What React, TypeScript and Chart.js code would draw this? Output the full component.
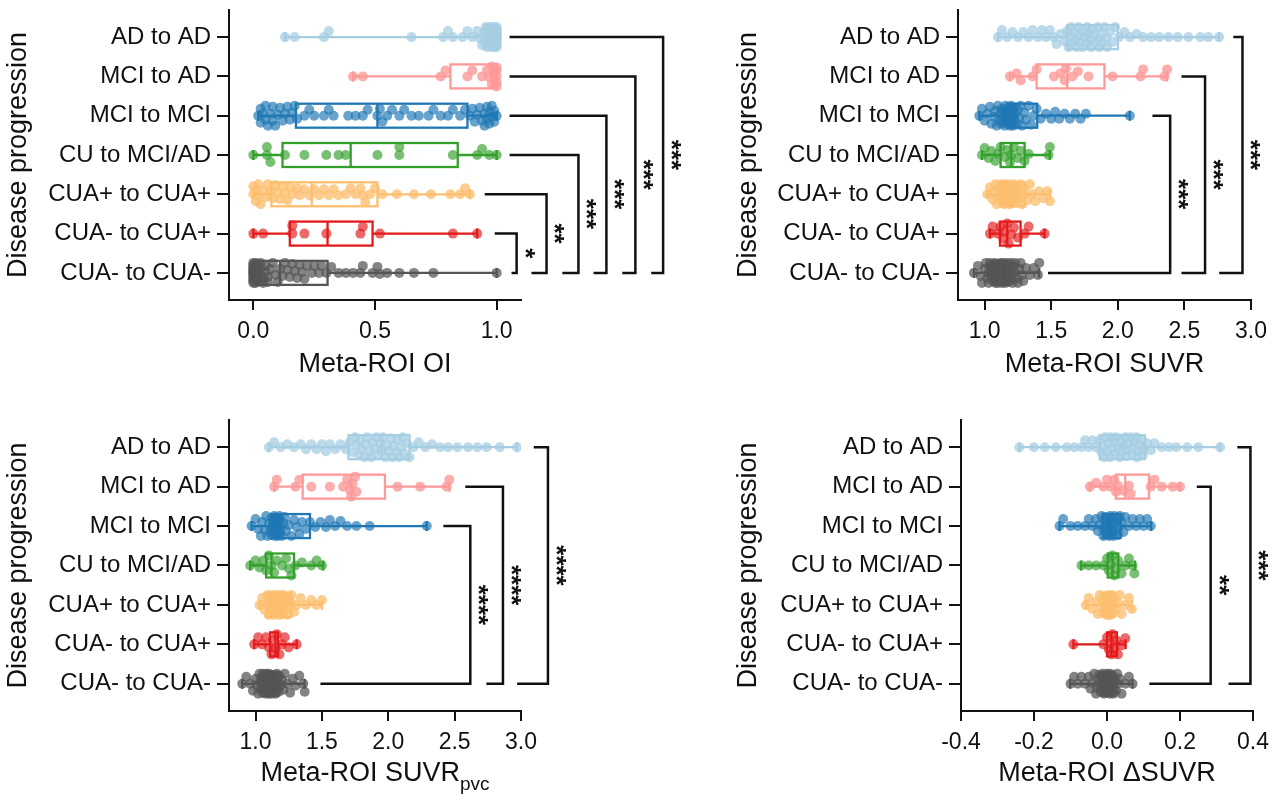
import React, { useEffect, useRef } from 'react';
import { Chart, registerables } from 'chart.js';

Chart.register(...registerables);

const FONT = '"Liberation Sans", Arial, Helvetica, sans-serif';
Chart.defaults.font.family = FONT;

// ---------------- shared data ----------------
const categories = ['AD to AD', 'MCI to AD', 'MCI to MCI', 'CU to MCI/AD', 'CUA+ to CUA+', 'CUA- to CUA+', 'CUA- to CUA-'];
const yTitle = 'Disease progression';

// ---------------- panel A: Meta-ROI OI ----------------
const oiTicks = [0, 0.5, 1.0];
const oiPoints: number[][] = [
  [0.13, 0.17, 0.29, 0.31, 0.65, 0.78, 0.80, 0.82, 0.86, 0.88, 0.90, 0.92, 0.93, 0.94, 0.95, 0.95, 0.96, 0.96, 0.96, 0.97, 0.97, 0.97, 0.97, 0.98, 0.98, 0.98, 0.98, 0.98, 0.99, 0.99, 0.99, 0.99, 0.99, 0.99, 0.99, 1.0, 1.0, 1.0, 1.0, 1.0, 1.0, 1.0, 1.0, 1.0, 1.0, 1.0, 1.0, 0.985, 0.975, 0.965, 0.955, 0.995, 0.995],
  [0.41, 0.45, 0.77, 0.79, 0.88, 0.90, 0.94, 0.96, 0.97, 0.98, 0.98, 0.99, 0.99, 1.0, 1.0, 1.0, 1.0, 1.0],
  [0.02, 0.03, 0.03, 0.04, 0.05, 0.05, 0.06, 0.07, 0.08, 0.08, 0.09, 0.10, 0.11, 0.12, 0.13, 0.14, 0.15, 0.16, 0.17, 0.18, 0.21, 0.23, 0.25, 0.29, 0.31, 0.33, 0.39, 0.42, 0.45, 0.47, 0.51, 0.52, 0.53, 0.55, 0.57, 0.60, 0.62, 0.65, 0.68, 0.72, 0.74, 0.77, 0.80, 0.82, 0.85, 0.87, 0.89, 0.90, 0.91, 0.92, 0.93, 0.94, 0.95, 0.95, 0.96, 0.96, 0.97, 0.97, 0.98, 0.98, 0.99, 0.99, 1.0],
  [0.0, 0.056, 0.056, 0.07, 0.13, 0.21, 0.30, 0.35, 0.38, 0.51, 0.60, 0.60, 0.82, 0.92, 0.94, 0.97, 1.0],
  [0.0, 0.0, 0.01, 0.01, 0.02, 0.02, 0.03, 0.04, 0.05, 0.06, 0.07, 0.08, 0.09, 0.10, 0.11, 0.12, 0.13, 0.14, 0.15, 0.16, 0.18, 0.19, 0.21, 0.23, 0.25, 0.27, 0.29, 0.31, 0.33, 0.35, 0.38, 0.40, 0.42, 0.44, 0.45, 0.46, 0.48, 0.50, 0.53, 0.59, 0.66, 0.73, 0.81, 0.85, 0.87, 0.89],
  [0.0, 0.04, 0.16, 0.16, 0.21, 0.30, 0.44, 0.45, 0.52, 0.82, 0.92],
  [0, 0, 0, 0, 0, 0, 0, 0, 0, 0, 0, 0, 0.005, 0.005, 0.005, 0.01, 0.01, 0.01, 0.01, 0.01, 0.015, 0.015, 0.02, 0.02, 0.02, 0.02, 0.03, 0.03, 0.03, 0.04, 0.04, 0.05, 0.05, 0.06, 0.06, 0.07, 0.08, 0.09, 0.10, 0.11, 0.12, 0.13, 0.14, 0.15, 0.16, 0.17, 0.18, 0.19, 0.20, 0.21, 0.22, 0.24, 0.25, 0.27, 0.28, 0.30, 0.32, 0.35, 0.38, 0.41, 0.44, 0.45, 0.49, 0.51, 0.52, 0.55, 0.60, 0.66, 0.74, 1.0],
];
// [min, q1, median, q3, max]
const oiBoxes: number[][] = [
  [0.13, 0.95, 0.99, 1.0, 1.0],
  [0.41, 0.81, 0.98, 1.0, 1.0],
  [0.02, 0.175, 0.51, 0.88, 1.0],
  [0.0, 0.12, 0.40, 0.84, 1.0],
  [0.0, 0.074, 0.24, 0.51, 0.89],
  [0.0, 0.15, 0.305, 0.49, 0.92],
  [0.0, 0.015, 0.11, 0.305, 1.0],
];
const oiBracketRows = [5, 4, 3, 2, 1, 0];
const oiBracketX = [1.082, 1.205, 1.336, 1.451, 1.57, 1.684];
const oiBracketTop = [0.992, 0.951, 1.053, 1.053, 1.053, 1.053];
const oiBracketBottom = [1.061, 1.143, 1.27, 1.398, 1.516, 1.635];
const oiBracketLabels = ['*', '**', '***', '***', '***', '***'];

// ---------------- panel B: Meta-ROI SUVR ----------------
const suvrTicks = [1.0, 1.5, 2.0, 2.5, 3.0];
const suvrPoints: number[][] = [
  [1.10, 1.13, 1.17, 1.21, 1.25, 1.29, 1.33, 1.36, 1.40, 1.43, 1.46, 1.49, 1.52, 1.54, 1.57, 1.60, 1.62, 1.63, 1.65, 1.66, 1.68, 1.69, 1.71, 1.72, 1.74, 1.75, 1.77, 1.78, 1.80, 1.81, 1.83, 1.85, 1.86, 1.88, 1.90, 1.92, 1.94, 1.96, 1.98, 2.01, 2.05, 2.09, 2.14, 2.19, 2.25, 2.31, 2.38, 2.45, 2.53, 2.62, 2.68, 2.76, 1.645, 1.675, 1.705, 1.735, 1.765, 1.795, 1.825, 1.855, 1.885, 1.915],
  [1.19, 1.24, 1.27, 1.36, 1.39, 1.52, 1.57, 1.60, 1.61, 1.66, 1.70, 1.78, 1.96, 2.17, 2.19, 2.35, 2.37],
  [0.96, 0.98, 1.0, 1.02, 1.04, 1.05, 1.07, 1.08, 1.09, 1.10, 1.11, 1.12, 1.12, 1.13, 1.14, 1.15, 1.15, 1.16, 1.17, 1.17, 1.18, 1.18, 1.19, 1.19, 1.20, 1.20, 1.21, 1.21, 1.22, 1.23, 1.24, 1.25, 1.26, 1.27, 1.28, 1.30, 1.31, 1.33, 1.35, 1.37, 1.39, 1.42, 1.46, 1.50, 1.53, 1.56, 1.60, 1.64, 1.68, 1.72, 1.76, 2.09, 1.145, 1.155, 1.165, 1.175, 1.185, 1.195, 1.205, 1.215, 1.225],
  [0.98, 1.0, 1.03, 1.05, 1.08, 1.10, 1.12, 1.15, 1.17, 1.19, 1.20, 1.22, 1.25, 1.27, 1.30, 1.33, 1.48, 1.49],
  [1.02, 1.04, 1.06, 1.07, 1.08, 1.09, 1.10, 1.11, 1.12, 1.13, 1.13, 1.14, 1.15, 1.15, 1.16, 1.17, 1.17, 1.18, 1.18, 1.19, 1.19, 1.20, 1.20, 1.21, 1.22, 1.22, 1.23, 1.24, 1.25, 1.26, 1.27, 1.28, 1.29, 1.30, 1.32, 1.34, 1.36, 1.38, 1.41, 1.44, 1.47, 1.49, 1.125, 1.145, 1.165, 1.185, 1.205, 1.225, 1.245],
  [1.04, 1.06, 1.10, 1.12, 1.14, 1.15, 1.17, 1.18, 1.20, 1.22, 1.25, 1.30, 1.33, 1.45],
  [0.92, 0.95, 0.97, 0.98, 1.0, 1.01, 1.02, 1.03, 1.03, 1.04, 1.04, 1.05, 1.05, 1.06, 1.06, 1.065, 1.07, 1.07, 1.075, 1.08, 1.08, 1.085, 1.09, 1.09, 1.095, 1.10, 1.10, 1.10, 1.105, 1.11, 1.11, 1.11, 1.115, 1.12, 1.12, 1.12, 1.125, 1.13, 1.13, 1.13, 1.135, 1.14, 1.14, 1.14, 1.145, 1.15, 1.15, 1.155, 1.16, 1.16, 1.165, 1.17, 1.17, 1.175, 1.18, 1.18, 1.185, 1.19, 1.20, 1.205, 1.21, 1.22, 1.225, 1.23, 1.24, 1.25, 1.26, 1.27, 1.28, 1.29, 1.31, 1.34, 1.37, 1.40, 1.41],
];
const suvrBoxes: number[][] = [
  [1.10, 1.62, 1.78, 2.0, 2.76],
  [1.19, 1.39, 1.62, 1.90, 2.37],
  [0.96, 1.19, 1.23, 1.395, 2.09],
  [0.98, 1.12, 1.20, 1.30, 1.49],
  [1.02, 1.13, 1.20, 1.30, 1.49],
  [1.04, 1.115, 1.17, 1.27, 1.45],
  [0.92, 1.07, 1.12, 1.17, 1.41],
];
const suvrBracketRows = [2, 1, 0];
const suvrBracketX = [2.393, 2.655, 2.936];
const suvrBracketTop = [2.26, 2.478, 2.867];
const suvrBracketBottom = [1.476, 2.478, 2.761];
const suvrBracketLabels = ['***', '***', '***'];

// ---------------- panel C: Meta-ROI SUVRpvc ----------------
const pvcTicks = [1.0, 1.5, 2.0, 2.5, 3.0];
const pvcPoints: number[][] = [
  [1.10, 1.14, 1.19, 1.24, 1.29, 1.34, 1.38, 1.42, 1.46, 1.50, 1.53, 1.56, 1.60, 1.64, 1.68, 1.71, 1.73, 1.76, 1.78, 1.80, 1.82, 1.84, 1.86, 1.88, 1.90, 1.92, 1.94, 1.96, 1.98, 2.00, 2.02, 2.04, 2.06, 2.08, 2.10, 2.12, 2.14, 2.16, 2.19, 2.23, 2.28, 2.33, 2.39, 2.45, 2.52, 2.60, 2.67, 2.74, 2.84, 2.97, 1.75, 1.79, 1.83, 1.87, 1.91, 1.95, 1.99, 2.03, 2.07, 2.11],
  [1.14, 1.16, 1.30, 1.33, 1.42, 1.56, 1.66, 1.69, 1.71, 1.72, 1.73, 1.75, 1.76, 2.07, 2.24, 2.44, 2.46],
  [0.97, 1.0, 1.02, 1.04, 1.05, 1.07, 1.08, 1.09, 1.10, 1.11, 1.12, 1.12, 1.13, 1.14, 1.14, 1.15, 1.15, 1.16, 1.16, 1.17, 1.17, 1.18, 1.18, 1.19, 1.20, 1.21, 1.22, 1.23, 1.25, 1.27, 1.29, 1.31, 1.33, 1.35, 1.38, 1.41, 1.45, 1.49, 1.53, 1.56, 1.60, 1.64, 1.69, 1.76, 1.86, 2.29, 1.125, 1.135, 1.145, 1.155, 1.165, 1.175, 1.185],
  [0.96, 1.0, 1.03, 1.06, 1.08, 1.10, 1.12, 1.14, 1.16, 1.20, 1.23, 1.25, 1.27, 1.30, 1.35, 1.42, 1.46, 1.50],
  [1.03, 1.05, 1.07, 1.08, 1.09, 1.10, 1.11, 1.12, 1.13, 1.14, 1.14, 1.15, 1.15, 1.16, 1.16, 1.17, 1.18, 1.18, 1.19, 1.20, 1.20, 1.21, 1.22, 1.23, 1.24, 1.25, 1.26, 1.27, 1.29, 1.31, 1.34, 1.38, 1.42, 1.46, 1.50, 1.105, 1.125, 1.145, 1.165, 1.185, 1.205, 1.225],
  [0.99, 1.02, 1.05, 1.08, 1.10, 1.12, 1.13, 1.15, 1.16, 1.18, 1.20, 1.22, 1.25, 1.31],
  [0.90, 0.93, 0.96, 0.98, 1.0, 1.01, 1.02, 1.03, 1.035, 1.04, 1.045, 1.05, 1.05, 1.055, 1.06, 1.06, 1.065, 1.07, 1.07, 1.075, 1.08, 1.08, 1.085, 1.09, 1.09, 1.095, 1.10, 1.10, 1.10, 1.105, 1.11, 1.11, 1.11, 1.115, 1.12, 1.12, 1.12, 1.125, 1.13, 1.13, 1.13, 1.135, 1.14, 1.14, 1.145, 1.15, 1.15, 1.155, 1.16, 1.16, 1.165, 1.17, 1.175, 1.18, 1.19, 1.20, 1.21, 1.22, 1.24, 1.26, 1.28, 1.30, 1.33, 1.36, 1.37],
];
const pvcBoxes: number[][] = [
  [1.10, 1.70, 1.95, 2.16, 2.97],
  [1.14, 1.355, 1.72, 1.975, 2.46],
  [0.97, 1.12, 1.18, 1.41, 2.29],
  [0.96, 1.08, 1.12, 1.29, 1.51],
  [1.03, 1.08, 1.16, 1.27, 1.50],
  [0.99, 1.11, 1.15, 1.17, 1.31],
  [0.90, 1.05, 1.11, 1.17, 1.37],
];
const pvcBracketRows = [2, 1, 0];
const pvcBracketX = [2.618, 2.864, 3.203];
const pvcBracketTop = [2.415, 2.58, 3.096];
const pvcBracketBottom = [1.489, 2.739, 2.971];
const pvcBracketLabels = ['****', '****', '****'];

// ---------------- panel D: Meta-ROI ΔSUVR ----------------
const deltaTicks = [-0.4, -0.2, 0.0, 0.2, 0.4];
const deltaPoints: number[][] = [
  [-0.24, -0.20, -0.17, -0.14, -0.11, -0.09, -0.07, -0.06, -0.05, -0.04, -0.03, -0.02, -0.015, -0.01, -0.005, 0.0, 0.005, 0.01, 0.015, 0.02, 0.025, 0.03, 0.035, 0.04, 0.045, 0.05, 0.055, 0.06, 0.065, 0.07, 0.075, 0.08, 0.085, 0.09, 0.095, 0.10, 0.11, 0.12, 0.13, 0.15, 0.17, 0.19, 0.22, 0.25, 0.31, -0.008, 0.008, 0.022, 0.038, 0.052, 0.068, 0.082, 0.098],
  [-0.047, -0.03, -0.01, 0.0, 0.01, 0.02, 0.025, 0.03, 0.045, 0.06, 0.065, 0.12, 0.13, 0.15, 0.18, 0.20],
  [-0.13, -0.12, -0.10, -0.08, -0.06, -0.05, -0.04, -0.03, -0.025, -0.02, -0.015, -0.01, -0.008, -0.005, -0.002, 0.0, 0.002, 0.005, 0.008, 0.01, 0.012, 0.015, 0.018, 0.02, 0.025, 0.03, 0.035, 0.04, 0.045, 0.05, 0.06, 0.07, 0.08, 0.09, 0.10, 0.11, 0.12, -0.004, 0.004, 0.014, 0.022, 0.028, 0.033],
  [-0.07, -0.05, -0.03, -0.01, 0.0, 0.005, 0.01, 0.015, 0.02, 0.025, 0.03, 0.04, 0.05, 0.06, 0.07, 0.075],
  [-0.058, -0.05, -0.04, -0.03, -0.025, -0.02, -0.015, -0.01, -0.008, -0.005, -0.003, 0.0, 0.002, 0.004, 0.006, 0.008, 0.01, 0.012, 0.015, 0.018, 0.02, 0.025, 0.03, 0.035, 0.04, 0.05, 0.06, 0.068, -0.012, -0.001, 0.003, 0.009, 0.014],
  [-0.092, -0.01, 0.0, 0.005, 0.01, 0.012, 0.015, 0.02, 0.025, 0.03, 0.04, 0.05],
  [-0.10, -0.09, -0.08, -0.07, -0.06, -0.05, -0.045, -0.04, -0.035, -0.03, -0.025, -0.02, -0.018, -0.015, -0.012, -0.01, -0.008, -0.005, -0.003, 0.0, 0.0, 0.002, 0.004, 0.006, 0.008, 0.01, 0.012, 0.015, 0.018, 0.02, 0.025, 0.03, 0.035, 0.04, 0.05, 0.06, 0.07, -0.022, -0.014, -0.006, -0.001, 0.001, 0.003, 0.005, 0.009, 0.013, 0.017, 0.022, -0.028, 0.028],
];
const deltaBoxes: number[][] = [
  [-0.24, -0.02, 0.045, 0.104, 0.31],
  [-0.047, 0.024, 0.05, 0.115, 0.20],
  [-0.13, -0.012, 0.01, 0.037, 0.121],
  [-0.071, 0.002, 0.015, 0.031, 0.077],
  [-0.058, -0.01, 0.0, 0.02, 0.068],
  [-0.092, 0.0, 0.012, 0.027, 0.051],
  [-0.101, -0.015, 0.003, 0.02, 0.07],
];
const deltaBracketRows = [1, 0];
const deltaBracketX = [0.284, 0.393];
const deltaBracketTop = [0.246, 0.357];
const deltaBracketBottom = [0.116, 0.333];
const deltaBracketLabels = ['**', '***'];

// ---------------- styles ----------------
const groupColors = ['#a6cee3', '#fb9a99', '#1f78b4', '#33a02c', '#fdbf6f', '#e31a1c', '#555555'];
const pointColors = [
  'rgba(166,206,227,0.75)', 'rgba(251,154,153,0.8)', 'rgba(31,120,180,0.68)', 'rgba(51,160,44,0.66)',
  'rgba(253,191,111,0.78)', 'rgba(227,26,28,0.66)', 'rgba(85,85,85,0.72)',
];
const INK = '#111111';
const Y_MIN = -0.69;
const Y_MAX = 6.69;
const POINT_R = 5;
const SWARM_MAX = 10;
const BOX_HALF = 12;
const CAP_HALF = 5;
const STAR_GAP = 15;

type PanelCfg = {
  x: number; y: number; w: number; h: number;
  L: number; T: number; R: number; B: number;
  xMin: number; xMax: number; ticks: number[];
  points: number[][]; boxes: number[][];
  bRows: number[]; bX: number[]; bTop: number[]; bBottom: number[]; bLabels: string[];
  xTitle: string; xSub?: string; titleY: number;
};

const panels: PanelCfg[] = [
  { x: 0, y: 0, w: 730, h: 403, L: 229, T: 10, R: 521, B: 300, xMin: -0.1, xMax: 1.1, ticks: oiTicks,
    points: oiPoints, boxes: oiBoxes, bRows: oiBracketRows, bX: oiBracketX, bTop: oiBracketTop, bBottom: oiBracketBottom, bLabels: oiBracketLabels,
    xTitle: 'Meta-ROI OI', titleY: 365 },
  { x: 730, y: 0, w: 550, h: 403, L: 228, T: 10, R: 521, B: 300, xMin: 0.8, xMax: 3.0, ticks: suvrTicks,
    points: suvrPoints, boxes: suvrBoxes, bRows: suvrBracketRows, bX: suvrBracketX, bTop: suvrBracketTop, bBottom: suvrBracketBottom, bLabels: suvrBracketLabels,
    xTitle: 'Meta-ROI SUVR', titleY: 365 },
  { x: 0, y: 403, w: 730, h: 403, L: 229, T: 17, R: 521, B: 308, xMin: 0.8, xMax: 3.0, ticks: pvcTicks,
    points: pvcPoints, boxes: pvcBoxes, bRows: pvcBracketRows, bX: pvcBracketX, bTop: pvcBracketTop, bBottom: pvcBracketBottom, bLabels: pvcBracketLabels,
    xTitle: 'Meta-ROI SUVR', xSub: 'pvc', titleY: 371 },
  { x: 730, y: 403, w: 550, h: 403, L: 231, T: 17, R: 523, B: 308, xMin: -0.4, xMax: 0.4, ticks: deltaTicks,
    points: deltaPoints, boxes: deltaBoxes, bRows: deltaBracketRows, bX: deltaBracketX, bTop: deltaBracketTop, bBottom: deltaBracketBottom, bLabels: deltaBracketLabels,
    xTitle: 'Meta-ROI \u0394SUVR', titleY: 371 },
];

// beeswarm layout: vertical pixel offsets so dots do not pile up
function swarmOffsets(values: number[], pxPerX: number, r: number, maxOff: number): number[] {
  const minD = r * 1.45;
  const order = values.map((_, i) => i).sort((a, b) => values[a] - values[b]);
  const placed: { x: number; y: number }[] = [];
  const out = new Array(values.length).fill(0);
  const cands: number[] = [0];
  for (let k = 1; k <= maxOff; k++) cands.push(-k, k);
  for (const i of order) {
    const x = values[i] * pxPerX;
    const near = placed.filter((p) => Math.abs(p.x - x) < minD);
    let chosen: number | null = null;
    let bestScore = -1;
    let bestY = 0;
    for (const c of cands) {
      let mind = Infinity;
      for (const p of near) {
        const d = Math.hypot(p.x - x, p.y - c);
        if (d < mind) mind = d;
      }
      if (mind >= minD) { chosen = c; break; }
      if (mind > bestScore) { bestScore = mind; bestY = c; }
    }
    const y = chosen === null ? bestY : chosen;
    placed.push({ x, y });
    out[i] = y;
  }
  return out;
}

function makeBoxPlugin(p: PanelCfg) {
  return {
    id: 'boxes',
    afterDatasetsDraw(chart: any) {
      const { ctx } = chart;
      const xs = chart.scales.x;
      const ys = chart.scales.y;
      const px = (v: number) => xs.getPixelForValue(v);
      p.boxes.forEach((s, i) => {
        const [mn, q1, md, q3, mx] = s;
        const cy = ys.getPixelForValue(i);
        ctx.save();
        ctx.strokeStyle = groupColors[i];
        ctx.lineWidth = 2.3;
        ctx.beginPath();
        ctx.moveTo(px(mn), cy); ctx.lineTo(px(q1), cy);
        ctx.moveTo(px(q3), cy); ctx.lineTo(px(mx), cy);
        ctx.moveTo(px(mn), cy - CAP_HALF); ctx.lineTo(px(mn), cy + CAP_HALF);
        ctx.moveTo(px(mx), cy - CAP_HALF); ctx.lineTo(px(mx), cy + CAP_HALF);
        ctx.moveTo(px(md), cy - BOX_HALF); ctx.lineTo(px(md), cy + BOX_HALF);
        ctx.stroke();
        ctx.strokeRect(px(q1), cy - BOX_HALF, px(q3) - px(q1), BOX_HALF * 2);
        ctx.restore();
      });
    },
  };
}

function makeBracketPlugin(p: PanelCfg) {
  return {
    id: 'brackets',
    afterDraw(chart: any) {
      const { ctx } = chart;
      const xs = chart.scales.x;
      const ys = chart.scales.y;
      const bottomRow = categories.length - 1;
      ctx.save();
      ctx.strokeStyle = INK;
      ctx.fillStyle = INK;
      ctx.lineWidth = 2.5;
      ctx.lineJoin = 'miter';
      ctx.lineCap = 'butt';
      p.bRows.forEach((row, k) => {
        const yT = ys.getPixelForValue(row);
        const yB = ys.getPixelForValue(bottomRow);
        const xV = xs.getPixelForValue(p.bX[k]);
        const xT = xs.getPixelForValue(p.bTop[k]);
        const xB = xs.getPixelForValue(p.bBottom[k]);
        ctx.beginPath();
        ctx.moveTo(xT, yT);
        ctx.lineTo(xV, yT);
        ctx.lineTo(xV, yB);
        ctx.lineTo(xB, yB);
        ctx.stroke();
        const fs = 26;
        ctx.save();
        ctx.translate(xV + STAR_GAP, (yT + yB) / 2);
        ctx.rotate(Math.PI / 2);
        ctx.font = `bold ${fs}px ${FONT}`;
        ctx.textAlign = 'center';
        ctx.textBaseline = 'alphabetic';
        ctx.fillText(p.bLabels[k], 0, fs * 0.58);
        ctx.restore();
      });
      // subscripted x title
      if (p.xSub) {
        const cx = (chart.chartArea.left + chart.chartArea.right) / 2;
        const cy = p.titleY;
        ctx.font = `27px ${FONT}`;
        const wm = ctx.measureText(p.xTitle).width;
        ctx.font = `19px ${FONT}`;
        const ws = ctx.measureText(p.xSub).width;
        const start = cx - (wm + ws) / 2;
        ctx.textAlign = 'left';
        ctx.textBaseline = 'middle';
        ctx.font = `27px ${FONT}`;
        ctx.fillText(p.xTitle, start, cy);
        ctx.font = `19px ${FONT}`;
        ctx.fillText(p.xSub, start + wm, cy + 11);
      }
      ctx.restore();
    },
  };
}

function zeroPadding(s: any) {
  s.paddingTop = 0;
  s.paddingBottom = 0;
  s.paddingLeft = 0;
  s.paddingRight = 0;
}

function Panel({ p }: { p: PanelCfg }) {
  const ref = useRef<HTMLCanvasElement | null>(null);
  useEffect(() => {
    const canvas = ref.current;
    if (!canvas) return;
    const pxX = (p.R - p.L) / (p.xMax - p.xMin);
    const pxY = (p.B - p.T) / (Y_MAX - Y_MIN);
    const datasets = p.points.map((vals, gi) => {
      const offs = swarmOffsets(vals, pxX, POINT_R, SWARM_MAX);
      return {
        label: categories[gi],
        data: vals.map((v, k) => ({ x: v, y: gi + offs[k] / pxY })),
        backgroundColor: pointColors[gi],
        borderWidth: 0,
        pointRadius: POINT_R,
        pointHoverRadius: POINT_R,
      };
    });
    const chart = new Chart(canvas, {
      type: 'scatter',
      data: { datasets },
      options: {
        animation: false,
        responsive: false,
        events: [],
        layout: { padding: { left: 0, top: p.T, right: p.w - p.R, bottom: 0 }, autoPadding: false },
        plugins: { legend: { display: false }, tooltip: { enabled: false } },
        scales: {
          x: {
            type: 'linear',
            min: p.xMin,
            max: p.xMax,
            afterBuildTicks: (s: any) => { s.ticks = p.ticks.map((v) => ({ value: v })); },
            afterFit: (s: any) => { s.height = p.h - p.B; zeroPadding(s); },
            ticks: {
              callback: (v: any) => Number(v).toFixed(1),
              font: { size: 23, family: FONT },
              color: INK,
              padding: 8,
              autoSkip: false,
              maxRotation: 0,
              minRotation: 0,
            },
            grid: { drawOnChartArea: false, drawTicks: true, tickLength: 10, color: INK, lineWidth: 2 },
            border: { display: true, color: INK, width: 2 },
            title: {
              display: !p.xSub,
              text: p.xTitle,
              color: INK,
              font: { size: 27, family: FONT, lineHeight: 1 },
              padding: { top: 0, bottom: p.h - 13.5 - p.titleY },
            },
          },
          y: {
            type: 'linear',
            reverse: true,
            min: Y_MIN,
            max: Y_MAX,
            afterBuildTicks: (s: any) => { s.ticks = categories.map((_, i) => ({ value: i })); },
            afterFit: (s: any) => { s.width = p.L; zeroPadding(s); },
            ticks: {
              callback: (v: any) => categories[Math.round(Number(v))],
              font: { size: 24, family: FONT },
              color: INK,
              padding: 6,
              autoSkip: false,
            },
            grid: { drawOnChartArea: false, drawTicks: true, tickLength: 12, color: INK, lineWidth: 2 },
            border: { display: true, color: INK, width: 2 },
            title: {
              display: true,
              text: yTitle,
              color: INK,
              font: { size: 27, family: FONT, lineHeight: 1 },
              padding: { top: 5.5, bottom: 0 },
            },
          },
        },
      } as any,
      plugins: [makeBoxPlugin(p), makeBracketPlugin(p)],
    });
    return () => chart.destroy();
  }, [p]);
  return (
    <canvas
      ref={ref}
      width={p.w}
      height={p.h}
      style={{ position: 'absolute', left: p.x, top: p.y, width: p.w, height: p.h }}
    />
  );
}

export default function App() {
  return (
    <div style={{ position: 'absolute', left: 0, top: 0, width: 1280, height: 806, background: '#ffffff', overflow: 'hidden' }}>
      {panels.map((p, i) => (
        <Panel key={i} p={p} />
      ))}
    </div>
  );
}
